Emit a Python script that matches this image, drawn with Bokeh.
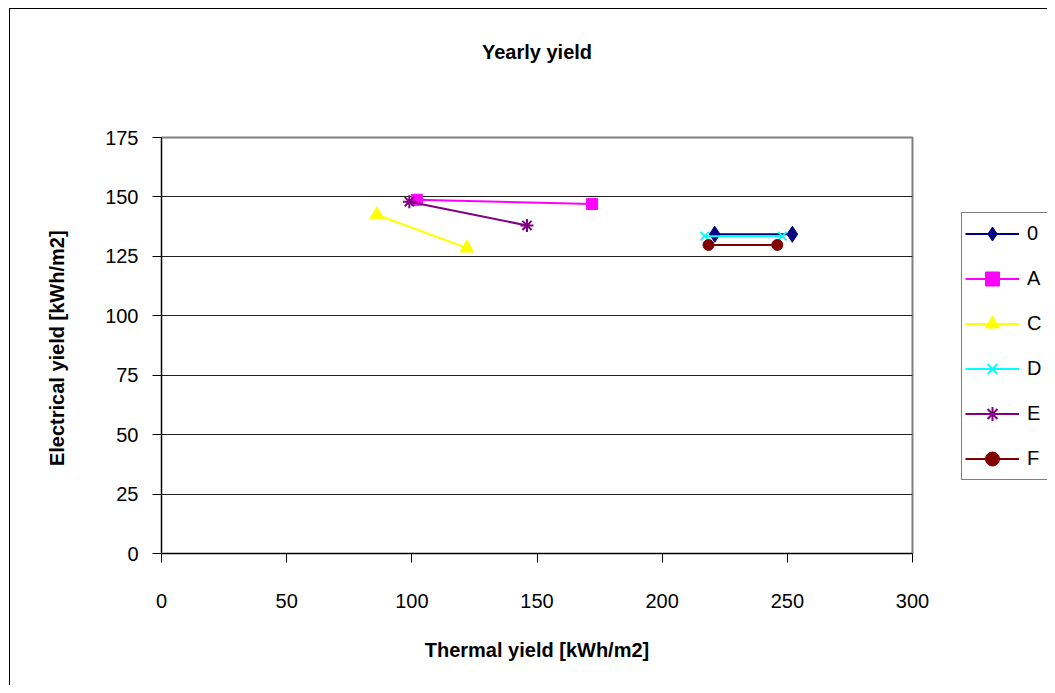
from bokeh.plotting import figure
from bokeh.models import Legend, LegendItem, Range1d, FixedTicker, Title
from bokeh.layouts import row
from bokeh.embed import file_html
from bokeh.resources import INLINE

# Data
series_names = ["0", "A", "C", "D", "E", "F"]
x_0 = [221, 252]
y_0 = [134.3, 134.3]
x_A = [102, 172]
y_A = [148.8, 147.0]
x_C = [86, 122]
y_C = [142.5, 128.5]
x_D = [217, 248]
y_D = [133.5, 133.5]
x_E = [99, 146]
y_E = [148, 138]
x_F = [218.5, 246]
y_F = [129.8, 129.8]
x_ticks = [0, 50, 100, 150, 200, 250, 300]
y_ticks = [0, 25, 50, 75, 100, 125, 150, 175]

FONT = "Liberation Sans"
NAN = float("nan")

# ---- main chart ----
p = figure(width=950, height=685, output_backend="svg", toolbar_location=None,
           x_range=Range1d(0, 300), y_range=Range1d(0, 175),
           min_border_left=161, min_border_right=38, min_border_top=137, min_border_bottom=132)
p.border_fill_alpha = 0
p.styles = {"background": "linear-gradient(#000,#000) 9px 8px / 1px calc(100% - 8px) no-repeat, "
                          "linear-gradient(#000,#000) 9px 8px / calc(100% - 9px) 1px no-repeat, #fff"}

p.title.text = "Yearly yield"
p.title.align = "center"
p.title.text_font = FONT
p.title.text_font_size = "20px"
p.title.text_font_style = "bold"
p.title.text_color = "black"
p.title.standoff = 0
p.add_layout(Title(text=" ", text_font_size="1px", standoff=72), "above")

p.outline_line_color = "#808080"
p.outline_line_width = 2

p.xgrid.visible = False
p.ygrid.ticker = FixedTicker(ticks=y_ticks)
p.ygrid.grid_line_color = "#202020"
p.ygrid.grid_line_width = 1

for ax in (p.xaxis[0], p.yaxis[0]):
    ax.axis_line_color = "black"
    ax.axis_line_width = 1
    ax.major_tick_line_color = "black"
    ax.major_tick_in = 0
    ax.major_tick_out = 9
    ax.minor_tick_line_color = None
    ax.major_label_text_font = FONT
    ax.major_label_text_font_size = "20px"
    ax.major_label_text_color = "black"
    ax.axis_label_text_font = FONT
    ax.axis_label_text_font_size = "20px"
    ax.axis_label_text_font_style = "bold"
    ax.axis_label_text_color = "black"

p.xaxis.ticker = FixedTicker(ticks=x_ticks)
p.yaxis.ticker = FixedTicker(ticks=y_ticks)
p.xaxis.axis_label = "Thermal yield [kWh/m2]"
p.yaxis.axis_label = "Electrical yield  [kWh/m2]"
p.xaxis.major_label_standoff = 31
p.yaxis.major_label_standoff = 14
p.xaxis.axis_label_standoff = 28
p.yaxis.axis_label_standoff = 34

# ---- legend panel (separate figure so the legend is not clipped by the plot frame) ----
q = figure(width=97, height=685, output_backend="svg", toolbar_location=None,
           x_axis_type=None, y_axis_type=None,
           x_range=Range1d(0, 1), y_range=Range1d(0, 1),
           min_border_left=0, min_border_right=0, min_border_top=0, min_border_bottom=0)
q.grid.visible = False
q.outline_line_color = None
q.border_fill_alpha = 0
q.background_fill_alpha = 0
q.styles = {"background": "linear-gradient(#000,#000) 0 8px / 100% 1px no-repeat, #fff"}

items = []

def add(name, xs, ys, color, marker, size, fill=True):
    style = dict(marker=marker, size=size, line_color=color,
                 fill_color=color if fill else None, line_width=2 if not fill else 1)
    p.line(xs, ys, line_color=color, line_width=2)
    p.scatter(xs, ys, **style)
    # legend samples: a single NaN point, so only their styles show in the legend
    lq = q.line([NAN], [NAN], line_color=color, line_width=2)
    sq = q.scatter([NAN], [NAN], **style)
    items.append(LegendItem(label=name, renderers=[lq, sq]))

add(series_names[0], x_0, y_0, "#000080", "diamond", 16)
add(series_names[1], x_A, y_A, "#FF00FF", "square", 11)
add(series_names[2], x_C, y_C, "#FFFF00", "triangle", 14)
add(series_names[3], x_D, y_D, "#00FFFF", "x", 12, fill=False)
add(series_names[4], x_E, y_E, "#800080", "asterisk", 13, fill=False)
add(series_names[5], x_F, y_F, "#800000", "circle", 11)

legend = Legend(items=items, location=(11, 73))
legend.glyph_width = 54
legend.glyph_height = 35
legend.label_height = 35
legend.spacing = 10
legend.padding = 3
legend.margin = 0
legend.label_standoff = 8
legend.label_text_font = FONT
legend.label_text_font_size = "20px"
legend.label_text_color = "black"
legend.border_line_color = "black"
legend.border_line_width = 1
legend.background_fill_color = "white"
legend.background_fill_alpha = 1
q.add_layout(legend, "center")

layout = row(p, q, spacing=0)
open("out.html", "w").write(file_html(layout, INLINE))
